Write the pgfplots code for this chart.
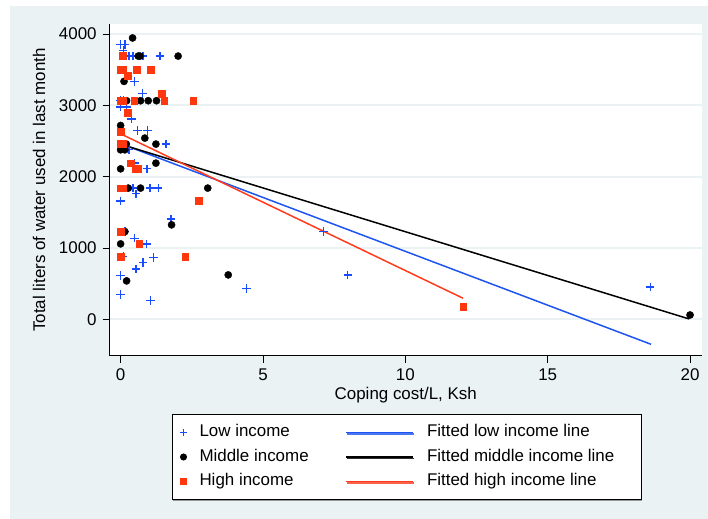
\documentclass[border=0pt]{standalone}
\usepackage{fontspec}
\setmainfont{Liberation Sans}
\usepackage{pgfplots}
\pgfplotsset{compat=1.18}
\usetikzlibrary{shadows}
\definecolor{bgc}{RGB}{234,242,243}
\definecolor{lowc}{RGB}{25,75,255}
\definecolor{lowl}{RGB}{30,85,240}
\definecolor{highc}{RGB}{255,55,15}
\definecolor{highl}{RGB}{255,60,30}
\pgfplotsset{
  legmark/.style={legend image code/.code={\pgfpathmoveto{\pgfpoint{0bp}{0bp}}\pgfpathmoveto{\pgfpoint{17bp}{0bp}}\pgfusepath{}\draw[##1, only marks] plot coordinates {(8.5bp,0bp)};}},
  legline/.style={legend image code/.code={\draw[##1] (0bp,0bp) -- (67bp,0bp);}},
}
\begin{document}
\fontsize{17}{20}\selectfont
\begin{tikzpicture}[x=1bp,y=1bp]
\useasboundingbox (0,0) rectangle (708,519);
\fill[white] (0,0) rectangle (708,519);
\fill[bgc] (10,0) rectangle (708,513);
\begin{axis}[
  at={(109.5bp,163bp)}, anchor=south west,
  scale only axis, width=592.5bp, height=332bp,
  xmin=-0.39, xmax=20.42, ymin=-515, ymax=4140,
  axis x line*=bottom, axis y line*=left,
  axis line style={-, line width=1bp, black},
  axis background/.style={fill=white},
  xtick={0,5,10,15,20}, ytick={0,1000,2000,3000,4000},
  tick align=outside, major tick length=7bp,
  tick style={black, line width=0.8bp},
  /pgf/number format/assume math mode=true,
  /pgf/number format/1000 sep={},
  ymajorgrids, grid style={bgc, line width=2bp},
  xlabel={Coping cost/L, Ksh},
  ylabel={Total liters of water used in last month},
  xlabel style={at={(axis description cs:0.5,-0.1175)}, anchor=center},
  ylabel style={at={(axis description cs:-0.119,0.5)}, anchor=center},
  legend columns=2,
  legend style={at={(axis description cs:0.1055,-0.1747)}, anchor=north west,
    draw=black, line width=1bp, fill=white,
    inner xsep=2.5bp, inner ysep=8bp,
    row sep=4.5bp,
    nodes={inner sep=2bp, text height=12.5bp, text depth=3.5bp},
    column sep=0bp,
    /tikz/column 1/.style={column sep=5.5bp},
    /tikz/column 2/.style={column sep=1bp},
    /tikz/column 3/.style={column sep=11bp},
    drop shadow={shadow xshift=0.5bp, shadow yshift=-1.5bp, fill=gray, opacity=0.8}},
  legend cell align=left,
]
% Low income
\addplot[only marks, mark=+, mark size=4.3bp, lowc, line width=1.3bp, forget plot] coordinates {
(0,3850) (0.15,3850) (0.09,3770)
(0.30,3690) (0.44,3690) (0.79,3690) (1.38,3690)
(0.48,3335) (0.77,3162)
(0,3064) (0.1,3064) (0,2975) (0.21,2975) (0.39,2807) (0.60,2643) (0.95,2643) (1.59,2456)
(0.30,2376) (0.48,2189) (0.93,2109)
(0.44,1839) (1.03,1839) (1.32,1839) (0.54,1759) (0,1660) (1.77,1404) (0.15,1229)
(0.48,1137) (0.91,1057) (0.09,879) (1.15,865) (0.79,794) (0.54,706) (0,612) (0,351) (1.05,261)
(7.12,1229) (7.98,622) (4.43,435) (18.6,452)
};
% Middle income
\addplot[only marks, mark=*, mark size=3.6bp, black, forget plot] coordinates {
(0.42,3944) (0.62,3690) (0.68,3690) (2.02,3690) (0.12,3335)
(0.21,3064) (0.70,3064) (0.97,3064) (1.26,3064)
(0,2717) (0.85,2540) (1.24,2456) (0,2376) (0.15,2376) (0.2,2456) (1.24,2189) (0,2109)
(0.27,1839) (0.70,1839) (3.06,1839) (1.79,1324) (0.15,1229) (0,1057) (0.21,538) (3.78,622)
(20,60)
};
% High income
\addplot[only marks, mark=square*, mark size=3.4bp, highc, forget plot] coordinates {
(0.07,3690) (0,3499) (0.07,3499) (0.57,3499) (1.05,3499) (0.25,3415)
(1.45,3162) (0,3064) (0.07,3064) (0.48,3064) (1.53,3064) (2.55,3064)
(0.25,2891) (0,2633) (0,2456) (0.09,2456) (0.35,2189) (0.54,2109) (0.60,2109)
(0,1839) (0.07,1839) (2.74,1665) (0,1229) (0.65,1057) (0,879) (2.27,879) (12.03,173)
};
% Fitted lines
\addplot[lowl, line width=1.5bp, forget plot] coordinates {(0,2463) (18.63,-351)};
\addplot[black, line width=1.5bp, forget plot] coordinates {(0,2455) (19.97,4)};
\addplot[highl, line width=1.5bp, forget plot] coordinates {(0,2600) (12.03,294)};
% Legend
\addlegendimage{only marks, mark=+, mark size=3.5bp, lowc, line width=1.2bp, legmark}
\addlegendentry{\makebox[143bp][l]{Low income}}
\addlegendimage{lowl, line width=1.5bp, legline}
\addlegendentry{\makebox[210bp][l]{Fitted low income line}}
\addlegendimage{only marks, mark=*, mark size=3bp, black, legmark}
\addlegendentry{\makebox[143bp][l]{Middle income}}
\addlegendimage{black, line width=1.5bp, legline}
\addlegendentry{\makebox[210bp][l]{Fitted middle income line}}
\addlegendimage{only marks, mark=square*, mark size=3bp, highc, legmark}
\addlegendentry{\makebox[143bp][l]{High income}}
\addlegendimage{highl, line width=1.5bp, legline}
\addlegendentry{\makebox[210bp][l]{Fitted high income line}}
\end{axis}
\end{tikzpicture}
\end{document}
